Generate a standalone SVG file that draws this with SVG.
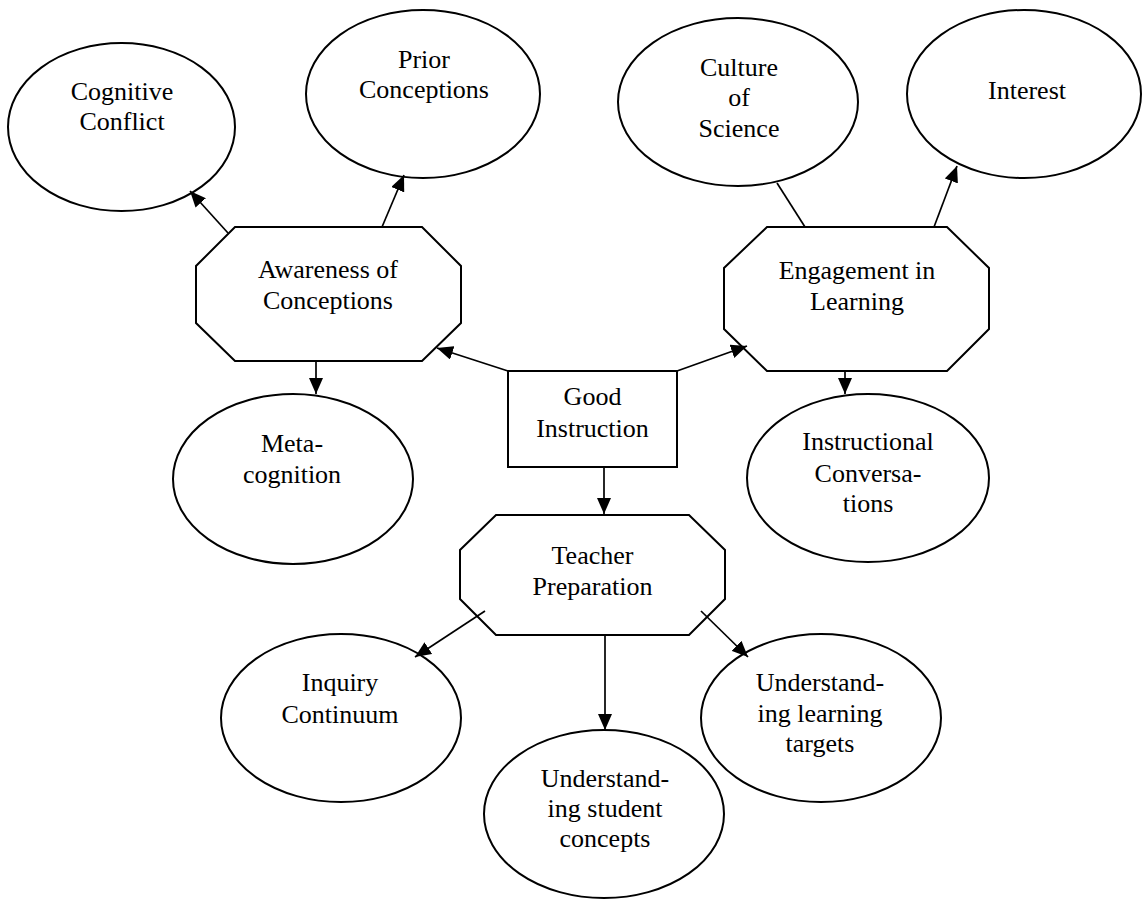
<svg xmlns="http://www.w3.org/2000/svg" width="1148" height="899" viewBox="0 0 1148 899">
<style>
.shape{fill:#fff;stroke:#000;stroke-width:2}
.conn line{stroke:#000;stroke-width:1.7}
text{font-family:"Liberation Serif","Times New Roman",serif;font-size:26px;fill:#000;text-anchor:middle}
</style>
<defs>
<marker id="ah" viewBox="0 0 16 14" refX="16" refY="7" markerWidth="16" markerHeight="14" markerUnits="userSpaceOnUse" orient="auto">
<path d="M0,0 L16,7 L0,14 Z" fill="#000"/>
</marker>
</defs>
<rect width="1148" height="899" fill="#fff"/>
<g id="cognitive-conflict">
<ellipse class="shape" cx="121.5" cy="127" rx="113.5" ry="84"/>
<text x="122" y="100">Cognitive</text>
<text x="122" y="130">Conflict</text>
</g>
<g id="prior-conceptions">
<ellipse class="shape" cx="423" cy="94" rx="117" ry="84"/>
<text x="424" y="68">Prior</text>
<text x="424" y="98">Conceptions</text>
</g>
<g id="culture-of-science">
<ellipse class="shape" cx="738" cy="102" rx="120" ry="84"/>
<text x="739" y="76">Culture</text>
<text x="739" y="106">of</text>
<text x="739" y="137">Science</text>
</g>
<g id="interest">
<ellipse class="shape" cx="1024" cy="94" rx="117" ry="84"/>
<text x="1027" y="99">Interest</text>
</g>
<g id="awareness">
<polygon class="shape" points="235,227 422,227 461,266 461,323 422,361 235,361 196,323 196,266"/>
<text x="328" y="278">Awareness of</text>
<text x="328" y="309">Conceptions</text>
</g>
<g id="engagement">
<polygon class="shape" points="767,227 947,227 989,268 989,329 947,371 767,371 724,329 724,268"/>
<text x="857" y="279">Engagement in</text>
<text x="857" y="310">Learning</text>
</g>
<g id="good-instruction">
<rect class="shape" x="508" y="371" width="169" height="96"/>
<text x="592.5" y="405">Good</text>
<text x="592.5" y="437">Instruction</text>
</g>
<g id="metacognition">
<ellipse class="shape" cx="293" cy="479" rx="120" ry="85"/>
<text x="292" y="452">Meta-</text>
<text x="292" y="483">cognition</text>
</g>
<g id="instructional-conversations">
<ellipse class="shape" cx="868" cy="478" rx="121" ry="84"/>
<text x="868" y="450">Instructional</text>
<text x="868" y="482">Conversa-</text>
<text x="868" y="512">tions</text>
</g>
<g id="teacher-preparation">
<polygon class="shape" points="496,515 689,515 725,550 725,599 689,635 496,635 460,599 460,550"/>
<text x="592.5" y="564">Teacher</text>
<text x="592.5" y="595">Preparation</text>
</g>
<g id="inquiry-continuum">
<ellipse class="shape" cx="341" cy="718" rx="120" ry="84"/>
<text x="340" y="691">Inquiry</text>
<text x="340" y="723">Continuum</text>
</g>
<g id="understanding-student-concepts">
<ellipse class="shape" cx="604" cy="814" rx="120" ry="84"/>
<text x="605" y="787">Understand-</text>
<text x="605" y="817">ing student</text>
<text x="605" y="847">concepts</text>
</g>
<g id="understanding-learning-targets">
<ellipse class="shape" cx="821" cy="718" rx="120" ry="84"/>
<text x="820" y="691">Understand-</text>
<text x="820" y="722">ing learning</text>
<text x="820" y="752">targets</text>
</g>
<g id="connectors" class="conn">
<line x1="228" y1="233" x2="190" y2="191" marker-end="url(#ah)"/>
<line x1="382" y1="227" x2="404" y2="175" marker-end="url(#ah)"/>
<line x1="316" y1="361" x2="316" y2="394" marker-end="url(#ah)"/>
<line x1="508" y1="371" x2="437" y2="348" marker-end="url(#ah)"/>
<line x1="677" y1="371" x2="747" y2="346" marker-end="url(#ah)"/>
<line x1="604" y1="467" x2="604" y2="514" marker-end="url(#ah)"/>
<line x1="805" y1="227" x2="777" y2="183"/>
<line x1="934" y1="227" x2="957" y2="166" marker-end="url(#ah)"/>
<line x1="845" y1="371" x2="845" y2="394" marker-end="url(#ah)"/>
<line x1="485" y1="611" x2="415" y2="657" marker-end="url(#ah)"/>
<line x1="605" y1="635" x2="605" y2="730" marker-end="url(#ah)"/>
<line x1="701" y1="611" x2="748" y2="657" marker-end="url(#ah)"/>
</g>
</svg>
